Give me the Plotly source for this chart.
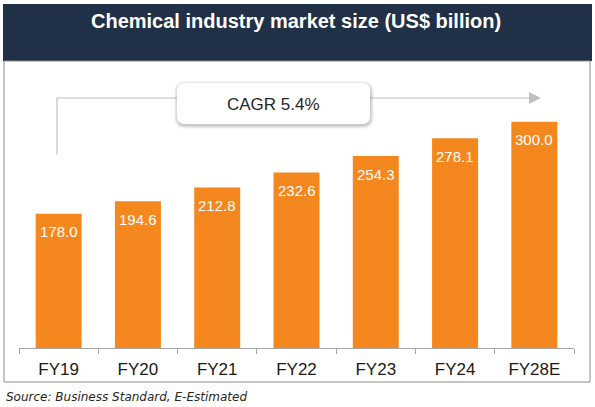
import plotly.graph_objects as go

# data
years = ["FY19", "FY20", "FY21", "FY22", "FY23", "FY24", "FY28E"]
market_size = [178.0, 194.6, 212.8, 232.6, 254.3, 278.1, 300.0]
cagr_label = "CAGR 5.4%"

W, H = 595, 407
ORANGE = "#F5871F"
NAVY = "#203047"
GREY = "#BFBFBF"


def px(x):
    return x / W


def py(y):
    return 1 - y / H


fig = go.Figure()

fig.add_trace(go.Bar(
    x=years,
    y=market_size,
    marker=dict(color=ORANGE, line=dict(width=0)),
    hoverinfo="x+y",
))

# value labels inside top of each bar
for yr, v in zip(years, market_size):
    fig.add_annotation(
        x=yr, y=v, xref="x", yref="y",
        text=f"{v:.1f}", showarrow=False,
        xanchor="center", yanchor="middle", yshift=-18,
        font=dict(family="Arial", size=15, color="white"),
    )

shapes = []
# header band
shapes.append(dict(type="rect", xref="paper", yref="paper",
                   x0=px(3), x1=px(592), y0=py(61), y1=py(4),
                   fillcolor=NAVY, line=dict(width=0), layer="below"))
# panel border
shapes.append(dict(type="rect", xref="paper", yref="paper",
                   x0=px(4), x1=px(590), y0=py(382), y1=py(61),
                   fillcolor="rgba(0,0,0,0)", line=dict(color="#8C8C8C", width=1),
                   layer="below"))
# CAGR bracket line
shapes.append(dict(type="path", xref="paper", yref="paper",
                   path=f"M {px(57)} {py(154)} L {px(57)} {py(98)} L {px(530)} {py(98)}",
                   line=dict(color=GREY, width=1.2)))
# arrowhead
shapes.append(dict(type="path", xref="paper", yref="paper",
                   path=f"M {px(529)} {py(92)} L {px(541)} {py(98)} L {px(529)} {py(104)} Z",
                   fillcolor=GREY, line=dict(width=0)))


def rounded(x0, y0, x1, y1, r):
    return (f"M {px(x0 + r)} {py(y0)} L {px(x1 - r)} {py(y0)} "
            f"Q {px(x1)} {py(y0)} {px(x1)} {py(y0 + r)} L {px(x1)} {py(y1 - r)} "
            f"Q {px(x1)} {py(y1)} {px(x1 - r)} {py(y1)} L {px(x0 + r)} {py(y1)} "
            f"Q {px(x0)} {py(y1)} {px(x0)} {py(y1 - r)} L {px(x0)} {py(y0 + r)} "
            f"Q {px(x0)} {py(y0)} {px(x0 + r)} {py(y0)} Z")


# CAGR box soft shadow + box
for off, col in [(4, "rgba(0,0,0,0.04)"), (3, "rgba(0,0,0,0.05)"),
                 (2, "rgba(0,0,0,0.06)"), (1, "rgba(0,0,0,0.07)")]:
    shapes.append(dict(type="path", xref="paper", yref="paper",
                       path=rounded(177 - off + 1, 83 - off + 2, 370 + off, 124 + off + 1, 8 + off),
                       fillcolor=col, line=dict(width=0)))
shapes.append(dict(type="path", xref="paper", yref="paper",
                   path=rounded(177, 83, 370, 124, 8),
                   fillcolor="white", line=dict(width=0)))

fig.update_layout(shapes=shapes)

fig.add_annotation(x=px(273.5), y=py(104), xref="paper", yref="paper",
                   xanchor="center", yanchor="middle",
                   text=cagr_label, showarrow=False,
                   font=dict(family="Arial", size=17, color="#262626"))

fig.add_annotation(x=px(296), y=py(21.5), xref="paper", yref="paper",
                   xanchor="center", yanchor="middle",
                   text="<b>Chemical industry market size (US$ billion)</b>",
                   showarrow=False,
                   font=dict(family="Arial", size=20, color="white"))

fig.add_annotation(x=px(4), y=py(397), xref="paper", yref="paper",
                   xanchor="left", yanchor="middle",
                   text="<i>Source: Business Standard, E-Estimated</i>",
                   showarrow=False,
                   font=dict(family="DejaVu Sans", size=12, color="#262626"))

fig.update_layout(
    width=W, height=H,
    margin=dict(l=0, r=0, t=0, b=0),
    paper_bgcolor="white",
    plot_bgcolor="rgba(0,0,0,0)",
    showlegend=False,
    bargap=0.42,
    xaxis=dict(
        domain=[px(19), px(574)],
        range=[-0.5, 6.5],
        tickson="boundaries",
        ticks="outside", ticklen=5, tickcolor="#A6A6A6",
        showline=True, linecolor="#A6A6A6", linewidth=1,
        showgrid=False, zeroline=False,
        tickfont=dict(family="Arial", size=17, color="#1A1A1A"),
        ticklabelstandoff=6,
        automargin=False,
    ),
    yaxis=dict(
        domain=[py(348), py(99)],
        range=[0, 330],
        visible=False,
        automargin=False,
    ),
)

fig.write_html("out.html", config={"displayModeBar": False},
               post_script="document.body.style.margin='0';")
